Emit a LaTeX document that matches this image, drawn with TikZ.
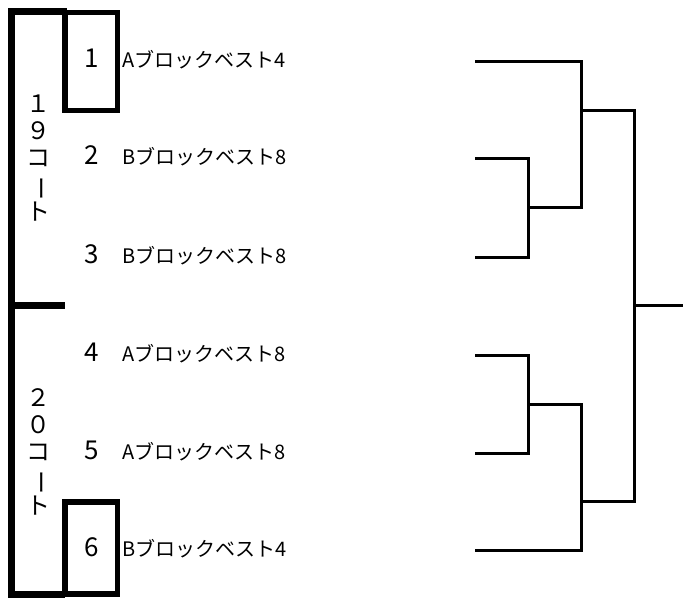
\documentclass[tikz,border=0pt]{standalone}
\usepackage{fontspec}
\newfontfamily\jpfont{Noto Sans CJK JP}
\usetikzlibrary{calc,positioning}

\tikzset{
	courtline/.style={line width=7pt},
	seedbox/.style={line width=5.5pt},
	bracketline/.style={line width=3pt},
	courttext/.style={font=\jpfont\fontsize{24}{27}\selectfont, align=center, inner sep=0pt},
	seednum/.style={font=\jpfont\fontsize{26}{28}\selectfont, anchor=base, inner sep=0pt},
	teamname/.style={font=\jpfont\fontsize{20}{24}\selectfont, anchor=base west, inner sep=0pt}
}

\begin{document}
\begin{tikzpicture}[x=1pt,y=-1pt]
	\useasboundingbox (0,0) rectangle (683,598);

	%court brackets
	\draw [courtline] (67,11.5) -- (11.5,11.5) -- (11.5,594) -- (65,594);
	\draw [courtline] (11.5,305.5) -- (65,305.5);
	%seed boxes
	\draw [seedbox] (65,12.5) rectangle (117.5,110.5);
	\draw [seedbox] (65,502) rectangle (117.5,594);

	\node [courttext] (court19) at (38,158) {１\\９\\コ\\\rotatebox[origin=c]{-90}{ー}\\ト};
	\node [courttext] (court20) at (38,452) {２\\０\\コ\\\rotatebox[origin=c]{-90}{ー}\\ト};

	\foreach \n/\team/\y in {1/Aブロックベスト4/61, 2/Bブロックベスト8/158, 3/Bブロックベスト8/257,
		4/Aブロックベスト8/355, 5/Aブロックベスト8/453, 6/Bブロックベスト4/550}{
		\node [seednum] (num\n) at (92,\y+6.5) {\n};
		\node [teamname] (team\n) at (122,\y+6) {\team};
		\coordinate (t\n) at (475,\y);
	}

	%tournament
	\coordinate (q23) at (528,207.5);
	\coordinate (q45) at (528,404);
	\coordinate (s1) at (581,110.5);
	\coordinate (s2) at (581,501.5);
	\coordinate (fin) at (634,305.5);
	\coordinate (champ) at (683,305.5);

	\draw [bracketline] (t2) -| (q23);
	\draw [bracketline] (t3) -| (q23);
	\draw [bracketline] (t4) -| (q45);
	\draw [bracketline] (t5) -| (q45);
	\draw [bracketline] (t1) -| (s1);
	\draw [bracketline] (q23) -| (s1);
	\draw [bracketline] (t6) -| (s2);
	\draw [bracketline] (q45) -| (s2);
	\draw [bracketline] (s1) -| (fin);
	\draw [bracketline] (s2) -| (fin);
	\draw [bracketline] (fin) -- (champ);

\end{tikzpicture}
\end{document}
